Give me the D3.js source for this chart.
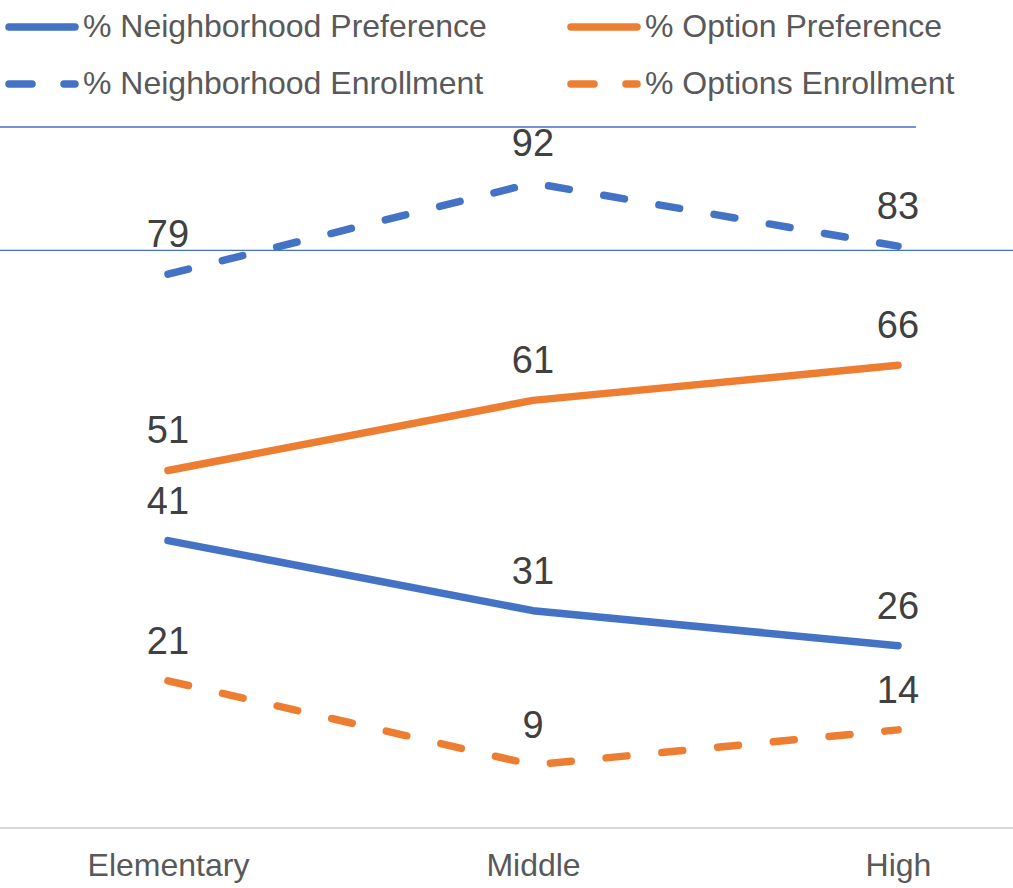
<!DOCTYPE html>
<html>
<head>
<meta charset="utf-8">
<script src="https://cdn.jsdelivr.net/npm/d3@7"></script>
<style>
  html, body { margin: 0; padding: 0; background: #ffffff; }
  svg { display: block; font-family: "Liberation Sans", Arial, sans-serif; }
</style>
</head>
<body>
<svg id="chart" width="1013" height="888"></svg>
<script>
// School levels on the x axis
const categories = ["Elementary", "Middle", "High"];

// Percentages per series
const neighborhoodPreference = [41, 31, 26];
const optionPreference = [51, 61, 66];
const neighborhoodEnrollment = [79, 92, 83];
const optionsEnrollment = [21, 9, 14];

const seriesNames = [
  "% Neighborhood Preference",
  "% Option Preference",
  "% Neighborhood Enrollment",
  "% Options Enrollment"
];

// Thin horizontal reference lines (percent values)
const referenceLines = [100, 82.4];

const BLUE = "#4472C4";
const ORANGE = "#ED7D31";

const series = [
  { name: seriesNames[0], values: neighborhoodPreference, color: BLUE, dashed: false },
  { name: seriesNames[1], values: optionPreference, color: ORANGE, dashed: false },
  { name: seriesNames[2], values: neighborhoodEnrollment, color: BLUE, dashed: true },
  { name: seriesNames[3], values: optionsEnrollment, color: ORANGE, dashed: true }
];

const svg = d3.select("#chart");

const x = d3.scalePoint().domain(categories).range([168, 898]);
const y = d3.scaleLinear().domain([0, 100]).range([828, 127]);

// Reference lines
svg.append("line")
  .attr("x1", 0).attr("x2", 916)
  .attr("y1", y(referenceLines[0])).attr("y2", y(referenceLines[0]))
  .attr("stroke", BLUE).attr("stroke-width", 1.3);
svg.append("line")
  .attr("x1", 0).attr("x2", 1013)
  .attr("y1", y(referenceLines[1])).attr("y2", y(referenceLines[1]))
  .attr("stroke", BLUE).attr("stroke-width", 1.3);

// Category axis
const xAxis = svg.append("g")
  .attr("transform", `translate(0,${y(0)})`)
  .call(d3.axisBottom(x).tickSize(0).tickPadding(48));
xAxis.select(".domain").remove();
xAxis.append("line")
  .attr("x1", 0).attr("x2", 1013)
  .attr("y1", 0).attr("y2", 0)
  .attr("stroke", "#D9D9D9").attr("stroke-width", 2);
xAxis.selectAll(".tick text")
  .attr("font-size", 32)
  .attr("font-family", "Liberation Sans, Arial, sans-serif")
  .attr("fill", "#595959")
  .attr("dy", 0);

// Lines
const line = d3.line()
  .x((d, i) => x(categories[i]))
  .y(d => y(d));

series.forEach(s => {
  svg.append("path")
    .datum(s.values)
    .attr("d", line)
    .attr("fill", "none")
    .attr("stroke", s.color)
    .attr("stroke-width", 7.5)
    .attr("stroke-linecap", "round")
    .attr("stroke-linejoin", "round")
    .attr("stroke-dasharray", s.dashed ? "21,35" : null);
});

// Data labels
series.forEach(s => {
  svg.append("g").selectAll("text")
    .data(s.values)
    .join("text")
    .attr("x", (d, i) => x(categories[i]))
    .attr("y", d => y(d) - 27)
    .attr("text-anchor", "middle")
    .attr("font-size", 38)
    .attr("fill", "#404040")
    .text(d => d);
});

// Legend
const legendItems = [
  { s: series[0], lx: 5, ly: 27 },
  { s: series[1], lx: 567, ly: 27 },
  { s: series[2], lx: 5, ly: 84 },
  { s: series[3], lx: 567, ly: 84 }
];
const legend = svg.append("g");
legendItems.forEach(item => {
  const g = legend.append("g").attr("transform", `translate(${item.lx},${item.ly})`);
  g.append("line")
    .attr("x1", 4).attr("x2", 70)
    .attr("y1", 0).attr("y2", 0)
    .attr("stroke", item.s.color)
    .attr("stroke-width", 7.5)
    .attr("stroke-linecap", "round")
    .attr("stroke-dasharray", item.s.dashed ? "23,32" : null);
  g.append("text")
    .attr("x", 78)
    .attr("y", 10)
    .attr("font-size", 32)
    .attr("fill", "#595959")
    .text(item.s.name);
});
</script>
</body>
</html>
